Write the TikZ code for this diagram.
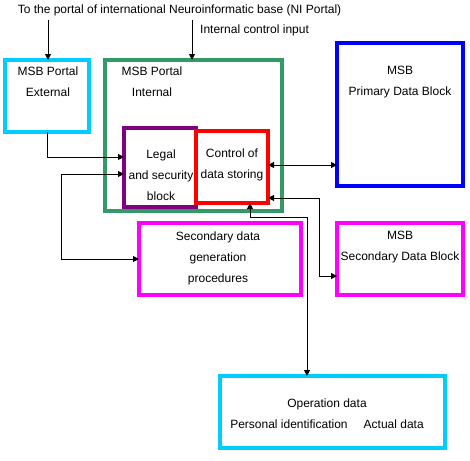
\documentclass[tikz,border=0pt]{standalone}
\usepackage{fontspec}
\setmainfont{Liberation Sans}
\usetikzlibrary{arrows.meta}
\definecolor{cyanb}{RGB}{0,204,255}
\definecolor{greenb}{RGB}{51,153,102}
\definecolor{purpleb}{RGB}{128,0,128}
\definecolor{redb}{RGB}{255,0,0}
\definecolor{blueb}{RGB}{0,0,255}
\definecolor{magb}{RGB}{255,0,255}
\begin{document}
\begin{tikzpicture}[x=1pt,y=-1pt,
  box/.style={draw, line width=3.2pt, inner sep=0pt, outer sep=0pt, anchor=north west},
  txt/.style={inner sep=0pt, align=center, font=\fontsize{12}{21}\selectfont},
  conn/.style={line width=1pt, -{Triangle[length=6pt,width=6pt]}},
  dbl/.style={line width=1pt, {Triangle[length=6pt,width=6pt]}-{Triangle[length=6pt,width=6pt]}}]
\useasboundingbox (0,0) rectangle (470,460);
\fill[white] (0,0) rectangle (470,460);

% boxes
\node[box, draw=cyanb, minimum width=84pt, minimum height=72pt] (ext) at (5,60) {};
\node[box, draw=greenb, minimum width=177pt, minimum height=151pt] (portal) at (105,60) {};
\node[box, draw=purpleb, minimum width=72pt, minimum height=79pt] (legal) at (124,128) {};
\node[box, draw=redb, minimum width=72pt, minimum height=72pt] (ctrl) at (196,131) {};
\node[box, draw=blueb, minimum width=126pt, minimum height=143pt] (primary) at (337,43) {};
\node[box, draw=magb, minimum width=162pt, minimum height=72pt] (secgen) at (139,223) {};
\node[box, draw=magb, minimum width=126pt, minimum height=72pt] (secblk) at (337,223) {};
\node[box, draw=cyanb, minimum width=225pt, minimum height=72pt] (opdata) at (220,376) {};

% texts
\node[txt] (title) at (179.5,10) {To the portal of international Neuroinformatic base (NI Portal)};
\node[txt, anchor=west] (ici) at (200,30) {Internal control input};
\node[txt] (extT) at (48,82) {MSB Portal\\External};
\node[txt] (portT) at (152,82) {MSB Portal\\Internal};
\node[txt] (legalT) at (161,175) {Legal\\and security\\block};
\node[txt] (ctrlT) at (232,164.5) {Control of\\data storing};
\node[txt] (primT) at (400,82) {MSB\\Primary Data Block};
\node[txt] (secgenT) at (218,258) {Secondary data\\generation\\procedures};
\node[txt] (secblkT) at (400,247.5) {MSB\\Secondary Data Block};
\node[txt] (opT) at (327,413.5) {Operation data\\Personal identification\hspace{16pt}Actual data};

% helper coordinates
\coordinate (t1) at (48,20);
\coordinate (t2) at (192,20);
\coordinate (y157) at (0,157);
\coordinate (y174) at (0,174);
\coordinate (c4) at (61,259);
\coordinate (y165) at (0,165);
\coordinate (y198) at (0,198);
\coordinate (c6) at (319,276);
\coordinate (x250) at (250,0);
\coordinate (c7) at (307,217);

% connectors
\draw[conn] (t1) -- (t1 |- ext.north);
\draw[conn] (t2) -- (t2 |- portal.north);
\draw[conn] (ext.south) |- (legal.west |- y157);
\draw[dbl] (legal.west |- y174) -| (c4) -- (secgen.west |- c4);
\draw[dbl] (ctrl.east |- y165) -- (primary.west |- y165);
\draw[dbl] (ctrl.east |- y198) -| (c6) -- (secblk.west |- c6);
\draw[dbl] (ctrl.south -| x250) |- (c7) -- (c7 |- opdata.north);
\end{tikzpicture}
\end{document}
